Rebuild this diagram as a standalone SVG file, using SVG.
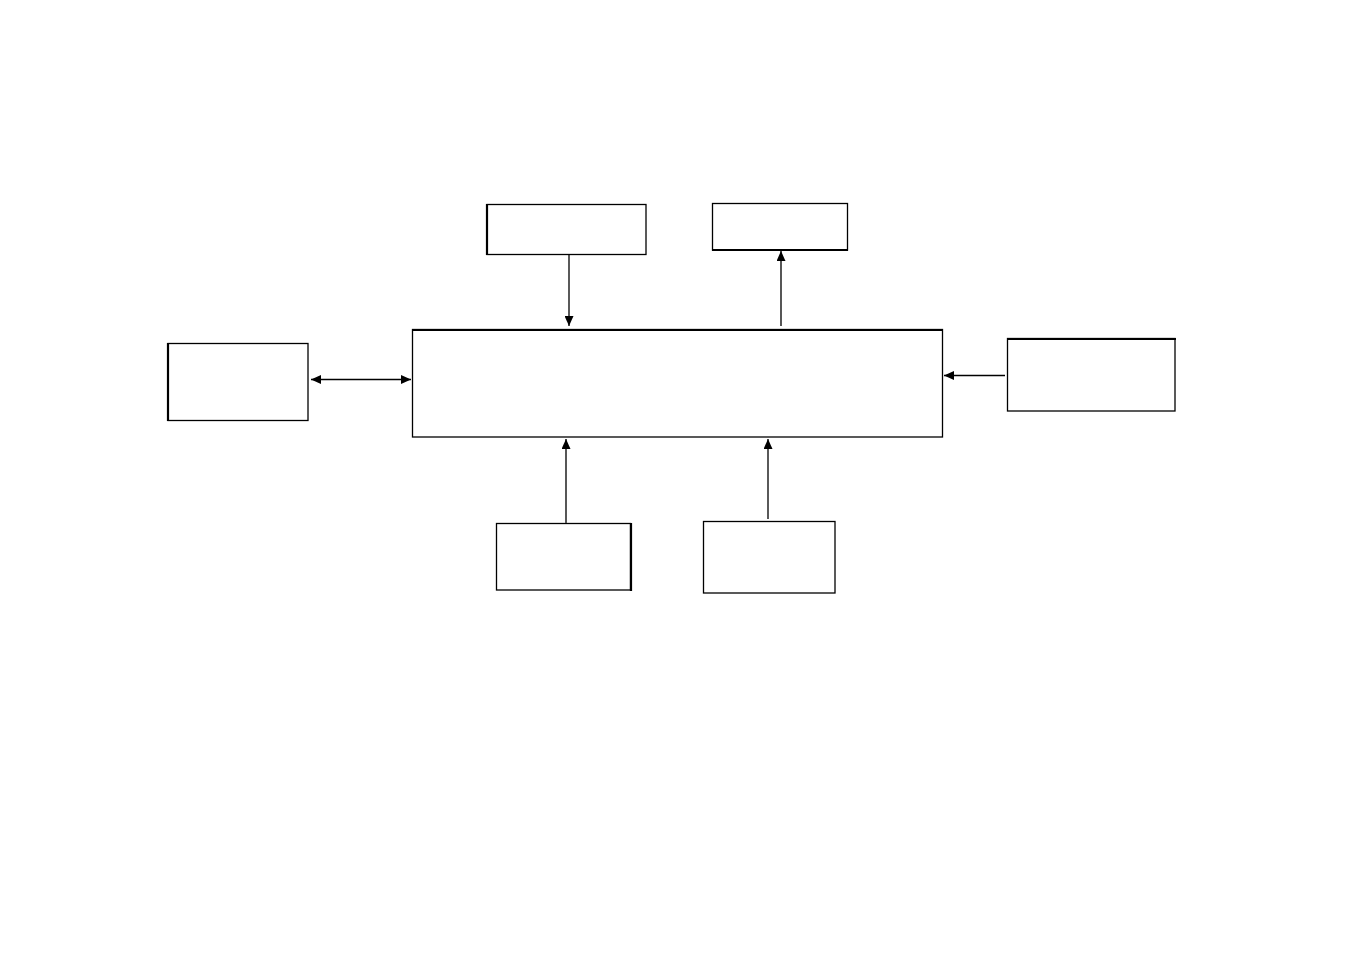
<svg xmlns="http://www.w3.org/2000/svg" width="1350" height="954" viewBox="0 0 1350 954">
<style>
.box{fill:#fff;stroke:#000;stroke-width:1.3}
.thick{stroke:#000;stroke-width:2.2;fill:none}
.conn{stroke:#000;stroke-width:1.3;fill:none}
.grey{stroke:#444;stroke-width:1.8;fill:none}
</style>
<defs>
<marker id="ah" viewBox="0 0 10 9" refX="10" refY="4.5" markerWidth="10" markerHeight="9" markerUnits="userSpaceOnUse" orient="auto-start-reverse">
<path d="M0,0 L10,4.5 L0,9 Z" fill="#000"/>
</marker>
</defs>
<rect width="1350" height="954" fill="#fff"/>
<g id="node-top-left"><rect class="box" x="487" y="204.5" width="159" height="50"/><line class="thick" x1="487" y1="204" x2="487" y2="255"/></g>
<g id="node-top-right"><rect class="box" x="712.5" y="203.5" width="135" height="46.5"/><line class="thick" x1="712" y1="250" x2="848" y2="250"/></g>
<g id="node-left"><rect class="box" x="168" y="343.5" width="140" height="77"/><line class="thick" x1="168" y1="343" x2="168" y2="421"/></g>
<g id="node-center"><rect class="box" x="412.5" y="329.5" width="530" height="107.5"/><line class="thick" x1="412" y1="330" x2="943" y2="330"/></g>
<g id="node-right"><rect class="box" x="1007.5" y="338.5" width="167.5" height="72.5"/><line class="thick" x1="1007" y1="339" x2="1176" y2="339"/></g>
<g id="node-bottom-left"><rect class="box" x="496.5" y="523.5" width="134" height="66.5"/><line class="thick" x1="631" y1="523" x2="631" y2="591"/></g>
<g id="node-bottom-right"><rect class="box" x="703.5" y="521.5" width="131.5" height="71.5"/></g>
<g id="connectors">
<line class="conn" x1="569" y1="255" x2="569" y2="326" marker-end="url(#ah)"/>
<line class="grey" x1="781" y1="326" x2="781" y2="251" marker-end="url(#ah)"/>
<line class="conn" x1="311" y1="379.5" x2="411" y2="379.5" marker-start="url(#ah)" marker-end="url(#ah)"/>
<line class="conn" x1="1005" y1="375.5" x2="944" y2="375.5" marker-end="url(#ah)"/>
<line class="grey" x1="566" y1="523" x2="566" y2="439" marker-end="url(#ah)"/>
<line class="conn" x1="768" y1="519" x2="768" y2="439" marker-end="url(#ah)"/>
</g>
</svg>
